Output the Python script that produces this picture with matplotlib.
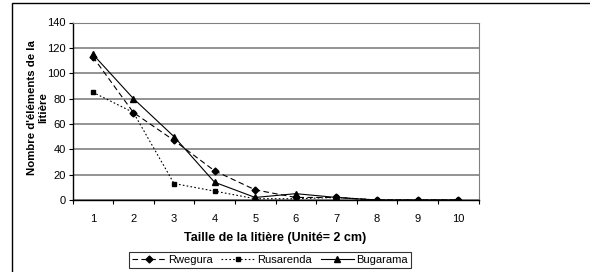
import matplotlib
matplotlib.use('Agg')
import matplotlib.pyplot as plt
from matplotlib.patches import Rectangle

plt.rcParams['font.family'] = ['Liberation Sans', 'DejaVu Sans']

# Donnees
tailles = [1, 2, 3, 4, 5, 6, 7, 8, 9, 10]
rwegura = [113, 69, 47, 23, 8, 2, 2, 0, 0, 0]
rusarenda = [85, 69, 13, 7, 1, 1, 2, 0, 0, 0]
bugarama = [115, 80, 50, 14, 2, 5, 2, 0, 0, 0]

fig = plt.figure(figsize=(5.9, 2.72), dpi=100)

# cadre exterieur (seulement gauche et haut visibles)
fig.patches.append(Rectangle((12/590, -0.1), 1.2, 1 - 3/272 + 0.1,
                             transform=fig.transFigure, fill=False,
                             edgecolor='black', linewidth=1.0))

ax = fig.add_axes([72.5/590, 1 - 200/272, 406/590, 177.5/272])

ax.plot(tailles, rwegura, color='black', linestyle=(0, (5, 3)), linewidth=0.8,
        marker='D', markersize=3.5, label='Rwegura')
ax.plot(tailles, rusarenda, color='black', linestyle=(0, (1.5, 2)), linewidth=0.8,
        marker='s', markersize=3.5, label='Rusarenda')
ax.plot(tailles, bugarama, color='black', linestyle='-', linewidth=0.8,
        marker='^', markersize=4, label='Bugarama')

ax.set_xlim(0.5, 10.5)
ax.set_ylim(0, 140)
ax.set_yticks(range(0, 141, 20))
ax.set_xticks(tailles)
ax.set_xticks([t + 0.5 for t in [0] + tailles], minor=True)
ax.tick_params(axis='x', which='major', length=0, pad=10, labelsize=8)
ax.tick_params(axis='x', which='minor', length=3, width=0.8, direction='out')
ax.tick_params(axis='y', length=3, width=0.8, direction='out', labelsize=8, pad=2)

ax.grid(axis='y', color='#808080', linewidth=1.2)
ax.set_axisbelow(True)
for s in ['top', 'right']:
    ax.spines[s].set_color('#808080')
for s in ['left', 'bottom']:
    ax.spines[s].set_color('black')
    ax.spines[s].set_linewidth(1.0)

ax.set_ylabel("Nombre d'éléments de la\nlitière", fontsize=8.2, fontweight='bold',
              linespacing=1.2)
ax.yaxis.set_label_coords(-0.06, 0.52)
ax.set_xlabel('Taille de la litière (Unité= 2 cm)', fontsize=9, fontweight='bold',
              labelpad=6)

leg = fig.legend(loc='center', bbox_to_anchor=(270/590, 1 - 260/272), ncol=3,
                 fontsize=8, frameon=True, fancybox=False, edgecolor='black',
                 handlelength=3.0, handletextpad=0.2, columnspacing=0.8,
                 borderpad=0.3, borderaxespad=0)
leg.get_frame().set_linewidth(0.8)

fig.savefig('out.png', dpi=100)
